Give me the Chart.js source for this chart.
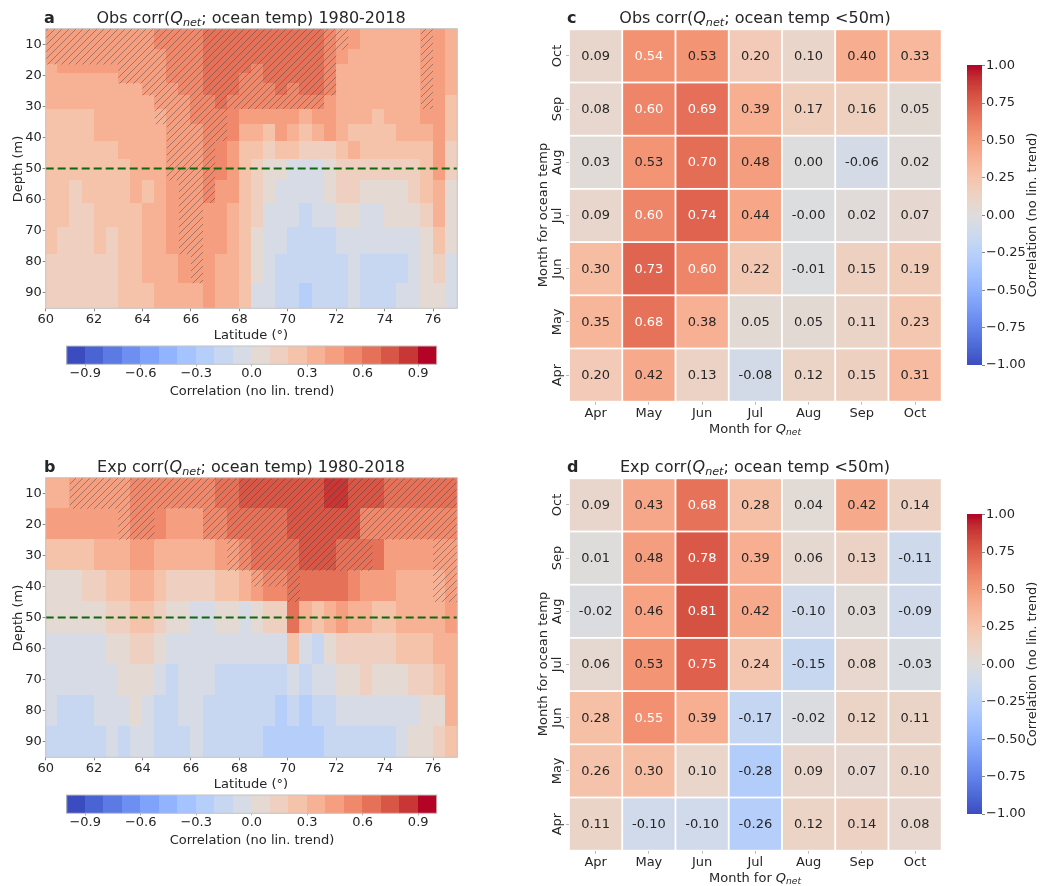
<!DOCTYPE html>
<html>
<head>
<meta charset="utf-8">
<script src="https://cdn.jsdelivr.net/npm/chart.js@4.4.0/dist/chart.umd.min.js"></script>
<style>
  body { margin: 0; background: #fff; }
  #page { position: relative; width: 1041px; height: 886px; overflow: hidden; font-family: "DejaVu Sans", sans-serif; color: #262626; }
  canvas { position: absolute; }
  .lbl { position: absolute; white-space: nowrap; transform: translate(-50%, -50%); font-size: 13px; line-height: 1; }
  .rot { transform: translate(-50%, -50%) rotate(-90deg); }
  .ttl { font-size: 16px; }
  .tag { position: absolute; white-space: nowrap; transform: translateY(-50%); font-size: 16px; font-weight: bold; line-height: 1; }
  sub { font-size: 70%; vertical-align: -0.3em; line-height: 0; }
</style>
</head>
<body>
<div id="page">
  <canvas id="secA" width="470" height="340" style="left:0;top:0"></canvas>
  <canvas id="barA" width="470" height="75" style="left:0;top:330px"></canvas>
  <canvas id="secB" width="470" height="340" style="left:0;top:449px"></canvas>
  <canvas id="barB" width="470" height="75" style="left:0;top:779px"></canvas>
  <canvas id="heatC" width="425" height="440" style="left:520px;top:0"></canvas>
  <canvas id="barC" width="101" height="350" style="left:940px;top:40px"></canvas>
  <canvas id="heatD" width="425" height="440" style="left:520px;top:449px"></canvas>
  <canvas id="barD" width="101" height="350" style="left:940px;top:489px"></canvas>

  <div class="tag" style="left:44px;top:18px">a</div>
  <div class="lbl ttl" style="left:251px;top:18px">Obs corr(<i>Q<sub>net</sub></i>; ocean temp) 1980-2018</div>
  <div class="lbl rot" style="left:17px;top:169px">Depth (m)</div>
  <div class="lbl" style="left:251px;top:334px">Latitude (°)</div>
  <div class="lbl" style="left:252px;top:390px">Correlation (no lin. trend)</div>

  <div class="tag" style="left:44px;top:467px">b</div>
  <div class="lbl ttl" style="left:251px;top:467px">Exp corr(<i>Q<sub>net</sub></i>; ocean temp) 1980-2018</div>
  <div class="lbl rot" style="left:17px;top:618px">Depth (m)</div>
  <div class="lbl" style="left:251px;top:783px">Latitude (°)</div>
  <div class="lbl" style="left:252px;top:839px">Correlation (no lin. trend)</div>

  <div class="tag" style="left:567px;top:18px">c</div>
  <div class="lbl ttl" style="left:755px;top:18px">Obs corr(<i>Q<sub>net</sub></i>; ocean temp &lt;50m)</div>
  <div class="lbl" style="left:755px;top:428px">Month for <i>Q<sub>net</sub></i></div>
  <div class="lbl rot" style="left:542px;top:215px">Month for ocean temp</div>
  <div class="lbl rot" style="left:1031px;top:215px">Correlation (no lin. trend)</div>

  <div class="tag" style="left:567px;top:467px">d</div>
  <div class="lbl ttl" style="left:755px;top:467px">Exp corr(<i>Q<sub>net</sub></i>; ocean temp &lt;50m)</div>
  <div class="lbl" style="left:755px;top:877px">Month for <i>Q<sub>net</sub></i></div>
  <div class="lbl rot" style="left:542px;top:664px">Month for ocean temp</div>
  <div class="lbl rot" style="left:1031px;top:664px">Correlation (no lin. trend)</div>
</div>

<script>
// ---- data ----
const latEdges = [60, 60.5, 61, 61.5, 62, 62.5, 63, 63.5, 64, 64.5, 65, 65.5, 66, 66.5, 67, 67.5, 68,
  68.5, 69, 69.5, 70, 70.5, 71, 71.5, 72, 72.5, 73, 73.5, 74, 74.5, 75, 75.5, 76, 76.5, 77];
const latTicks = [60, 62, 64, 66, 68, 70, 72, 74, 76];
const depthTicks = [10, 20, 30, 40, 50, 60, 70, 80, 90];
const mixedDepth = 50;

// obs: model levels, one profile per latitude band (top -> bottom)
const obsDepthEdges = [5, 11.77, 16.53, 19.43, 22.76, 26.56, 30.87, 35.74, 41.18, 47.21, 53.85, 61.11, 69.02, 77.61, 86.93, 95];
const obsCorr = [
  [.45, .45, .35, .35, .35, .35, .25, .25, .25, .25, .25, .25, .25, .15, .15],
  [.45, .45, .45, .35, .35, .35, .25, .25, .25, .25, .25, .25, .15, .15, .15],
  [.45, .45, .45, .35, .35, .35, .25, .25, .25, .25, .15, .15, .15, .15, .15],
  [.45, .45, .45, .35, .35, .35, .25, .25, .25, .25, .25, .15, .15, .15, .15],
  [.45, .45, .45, .35, .35, .35, .35, .35, .25, .25, .25, .25, .25, .15, .15],
  [.45, .45, .45, .35, .35, .35, .35, .35, .25, .25, .25, .25, .15, .15, .15],
  [.45, .45, .45, .45, .35, .35, .35, .35, .35, .25, .25, .25, .25, .25, .25],
  [.45, .45, .45, .45, .35, .35, .35, .35, .35, .35, .35, .25, .25, .25, .25],
  [.45, .45, .45, .45, .45, .35, .35, .35, .35, .35, .25, .35, .35, .35, .25],
  [.55, .45, .45, .45, .45, .45, .35, .35, .35, .35, .35, .35, .35, .35, .35],
  [.55, .55, .55, .55, .45, .45, .45, .45, .45, .45, .45, .45, .45, .35, .35],
  [.55, .55, .55, .55, .55, .45, .45, .45, .45, .45, .45, .45, .45, .45, .35],
  [.55, .55, .55, .55, .55, .55, .55, .45, .45, .45, .45, .45, .45, .45, .35],
  [.65, .65, .65, .65, .65, .55, .55, .55, .55, .55, .55, .45, .45, .45, .45],
  [.65, .65, .65, .65, .65, .65, .55, .55, .55, .55, .45, .45, .45, .35, .35],
  [.65, .65, .65, .65, .65, .55, .55, .55, .45, .45, .45, .35, .35, .35, .35],
  [.65, .65, .65, .55, .55, .55, .45, .35, .25, .25, .25, .25, .25, .25, .25],
  [.65, .65, .55, .55, .55, .55, .45, .35, .25, .15, .15, .15, .05, .05, -.05],
  [.65, .65, .65, .65, .55, .55, .45, .25, .15, .05, .05, -.05, -.05, -.05, -.05],
  [.65, .65, .65, .65, .65, .55, .45, .45, .25, .05, -.05, -.05, -.05, -.15, -.15],
  [.65, .65, .65, .65, .55, .55, .45, .35, .25, -.05, -.05, -.05, -.15, -.15, -.15],
  [.65, .65, .65, .65, .65, .55, .35, .25, .15, -.05, -.05, -.15, -.15, -.15, -.25],
  [.65, .65, .65, .65, .65, .55, .45, .35, .15, -.05, -.05, -.05, -.15, -.15, -.15],
  [.55, .55, .55, .55, .55, .45, .45, .45, .15, .05, .05, -.05, -.15, -.15, -.15],
  [.45, .45, .35, .35, .35, .35, .35, .35, .25, .15, .15, .05, -.05, -.15, -.15],
  [.45, .35, .35, .35, .35, .35, .35, .25, .35, .15, .15, .05, -.05, -.05, -.05],
  [.35, .35, .35, .35, .35, .35, .35, .25, .25, .15, .05, -.05, -.05, -.15, -.15],
  [.35, .35, .35, .35, .35, .35, .25, .25, .25, .15, .05, -.05, -.05, -.15, -.15],
  [.35, .35, .35, .35, .35, .35, .35, .25, .25, .15, .05, .05, -.05, -.15, -.15],
  [.35, .35, .35, .35, .35, .35, .35, .35, .25, .15, .05, .05, -.05, -.15, -.05],
  [.35, .35, .35, .35, .35, .35, .35, .35, .25, .15, .15, .05, -.05, -.05, -.05],
  [.45, .45, .45, .45, .45, .45, .45, .35, .25, .25, .25, .15, .05, .05, .05],
  [.45, .45, .45, .45, .45, .45, .45, .45, .45, .45, .35, .35, .25, .15, .05],
  [.35, .35, .35, .35, .35, .25, .25, .25, .15, .15, .05, .05, .05, -.05, -.05]
];
// depth (m) down to which the obs correlation is significant (hatched), per latitude band
const obsSigDepth = [16.53, 16.53, 16.53, 16.53, 16.53, 16.53, 22.76, 22.76, 26.56, 35.74, 53.85, 77.61, 86.93,
  61.11, 41.18, 30.87, 30.87, 30.87, 30.87, 30.87, 30.87, 30.87, 30.87, 26.56, 11.77, 0, 0, 0, 0, 0, 0, 30.87, 0, 0];

// exp: 10 m levels, one row per depth level (west -> east)
const expDepthEdges = [5, 15, 25, 35, 45, 55, 65, 75, 85, 95];
const expCorr = [
  [.35, .35, .45, .45, .45, .45, .45, .55, .55, .55, .55, .55, .55, .55, .65, .65, .75, .75, .75, .75, .75, .75, .75, .85, .85, .75, .75, .75, .65, .65, .65, .65, .65, .65],
  [.45, .45, .45, .45, .45, .45, .45, .55, .55, .55, .45, .45, .45, .55, .55, .65, .65, .65, .65, .65, .75, .75, .75, .75, .75, .75, .55, .55, .55, .55, .55, .55, .55, .55],
  [.25, .25, .25, .25, .35, .35, .35, .45, .45, .35, .35, .35, .35, .35, .45, .45, .55, .65, .65, .65, .65, .75, .75, .75, .65, .65, .65, .65, .45, .45, .45, .45, .45, .45],
  [.05, .05, .05, .15, .15, .25, .25, .35, .35, .25, .15, .15, .15, .15, .25, .25, .35, .45, .55, .55, .65, .65, .65, .65, .65, .55, .45, .45, .45, .35, .35, .35, .35, .45],
  [.05, .05, .05, .05, .05, .15, .15, .25, .25, .15, .05, .05, -.05, -.05, .05, .05, -.05, .05, .15, .15, .65, .35, .25, .35, .45, .35, .35, .25, .25, .35, .35, .35, .35, .45],
  [-.05, -.05, -.05, -.05, -.05, .05, .05, .15, .15, .05, -.05, -.05, -.05, -.05, -.05, -.05, -.05, -.05, -.05, -.05, .25, -.05, -.15, .05, .15, .15, .15, .15, .15, .25, .25, .25, .35, .35],
  [-.05, -.05, -.05, -.05, -.05, -.05, .05, .05, .05, -.05, -.15, -.05, -.05, -.05, -.15, -.15, -.15, -.15, -.15, -.15, -.05, -.15, -.05, -.05, .05, .05, .15, .05, .05, .05, .15, .15, .25, .35],
  [-.05, -.15, -.15, -.15, -.05, -.05, -.05, .05, -.05, -.15, -.15, -.05, -.05, -.15, -.15, -.15, -.15, -.15, -.15, -.25, -.15, -.25, -.15, -.15, -.05, -.05, -.05, -.05, -.05, -.05, -.05, .05, .05, .35],
  [-.15, -.15, -.15, -.15, -.15, -.05, -.15, -.05, -.05, -.15, -.15, -.15, -.05, -.15, -.15, -.15, -.15, -.15, -.25, -.25, -.25, -.25, -.25, -.15, -.15, -.15, -.15, -.15, -.15, -.05, .05, .05, .15, .25]
];
const expSigDepth = [0, 0, 15, 15, 15, 15, 25, 25, 25, 15, 15, 15, 15, 25, 25, 35, 35, 40, 40, 40, 45,
  35, 35, 35, 35, 35, 35, 25, 25, 25, 25, 25, 45, 45];

const cbarLevels = [-1, -0.9, -0.8, -0.7, -0.6, -0.5, -0.4, -0.3, -0.2, -0.1, 0, 0.1, 0.2, 0.3, 0.4, 0.5, 0.6, 0.7, 0.8, 0.9, 1];
const cbarTicksH = [-0.9, -0.6, -0.3, 0, 0.3, 0.6, 0.9];
const cbarTicksV = [-1, -0.75, -0.5, -0.25, 0, 0.25, 0.5, 0.75, 1];

const months = ["Apr", "May", "Jun", "Jul", "Aug", "Sep", "Oct"];
// rows: month for ocean temp (Apr..Oct), columns: month for Qnet (Apr..Oct)
const obsMonthCorr = [
  [0.20, 0.42, 0.13, -0.08, 0.12, 0.15, 0.31],
  [0.35, 0.68, 0.38, 0.05, 0.05, 0.11, 0.23],
  [0.30, 0.73, 0.60, 0.22, -0.01, 0.15, 0.19],
  [0.09, 0.60, 0.74, 0.44, -0.004, 0.02, 0.07],
  [0.03, 0.53, 0.70, 0.48, 0.00, -0.06, 0.02],
  [0.08, 0.60, 0.69, 0.39, 0.17, 0.16, 0.05],
  [0.09, 0.54, 0.53, 0.20, 0.10, 0.40, 0.33]
];
const expMonthCorr = [
  [0.11, -0.10, -0.10, -0.26, 0.12, 0.14, 0.08],
  [0.26, 0.30, 0.10, -0.28, 0.09, 0.07, 0.10],
  [0.28, 0.55, 0.39, -0.17, -0.02, 0.12, 0.11],
  [0.06, 0.53, 0.75, 0.24, -0.15, 0.08, -0.03],
  [-0.02, 0.46, 0.81, 0.42, -0.10, 0.03, -0.09],
  [0.01, 0.48, 0.78, 0.39, 0.06, 0.13, -0.11],
  [0.09, 0.43, 0.68, 0.28, 0.04, 0.42, 0.14]
];

// ---- colours ----
const coolwarmStops = [
  [59, 76, 192], [68, 90, 204], [77, 104, 215], [87, 117, 225], [98, 130, 234], [108, 142, 241],
  [119, 154, 247], [130, 165, 251], [141, 176, 254], [152, 185, 255], [163, 194, 255], [174, 201, 253],
  [184, 208, 249], [194, 213, 244], [204, 217, 238], [213, 219, 230], [221, 221, 221], [229, 216, 209],
  [236, 211, 197], [241, 204, 185], [245, 196, 173], [247, 187, 160], [247, 177, 148], [247, 166, 135],
  [244, 154, 123], [241, 141, 111], [236, 127, 99], [229, 112, 88], [222, 96, 77], [213, 80, 66],
  [203, 62, 56], [192, 40, 47], [180, 4, 38]
];

function coolwarm(t) {
  t = Math.max(0, Math.min(1, t));
  const f = t * 32;
  const i = Math.min(31, Math.floor(f));
  const u = f - i;
  const a = coolwarmStops[i], b = coolwarmStops[i + 1];
  return [0, 1, 2].map((k) => Math.round(a[k] + (b[k] - a[k]) * u));
}
function rgb(c) {
  return `rgb(${c[0]},${c[1]},${c[2]})`;
}
// 20 discrete levels of 0.1, as in the section plots
function binColor(v) {
  let i = Math.floor((v + 1) / 0.1 + 1e-9);
  i = Math.max(0, Math.min(19, i));
  return rgb(coolwarm(i / 19));
}
function textColorFor(c) {
  const lin = c.map((x) => {
    x /= 255;
    return x <= 0.03928 ? x / 12.92 : Math.pow((x + 0.055) / 1.055, 2.4);
  });
  const L = 0.2126 * lin[0] + 0.7152 * lin[1] + 0.0722 * lin[2];
  return L > 0.408 ? "#262626" : "#ffffff";
}
function minus(s) {
  return s.replace("-", "\u2212");
}

const FONT = { family: "DejaVu Sans", size: 13 };
const INK = "#262626";

function hatchPattern(ctx) {
  const s = 7;
  const c = document.createElement("canvas");
  c.width = s;
  c.height = s;
  const g = c.getContext("2d");
  g.strokeStyle = "rgba(60,60,60,0.55)";
  g.lineWidth = 0.8;
  g.beginPath();
  g.moveTo(0, s); g.lineTo(s, 0);
  g.moveTo(-1, 1); g.lineTo(1, -1);
  g.moveTo(s - 1, s + 1); g.lineTo(s + 1, s - 1);
  g.stroke();
  return ctx.createPattern(c, "repeat");
}

function fixedTicks(list) {
  return (scale) => { scale.ticks = list.map((v) => ({ value: v })); };
}

// ---- latitude / depth sections ----
const sectionPlugin = {
  id: "section",
  beforeDatasetsDraw(chart) {
    const { ctx, chartArea: a, scales: { x, y } } = chart;
    const cells = chart.data.datasets[0].data;
    ctx.save();
    ctx.beginPath();
    ctx.rect(a.left, a.top, a.width, a.height);
    ctx.clip();
    cells.forEach((d) => {
      const x0 = Math.floor(x.getPixelForValue(d.x0));
      const x1 = Math.ceil(x.getPixelForValue(d.x1));
      const y0 = Math.floor(y.getPixelForValue(d.y0));
      const y1 = Math.ceil(y.getPixelForValue(d.y1));
      ctx.fillStyle = binColor(d.v);
      ctx.fillRect(x0, y0, x1 - x0, y1 - y0);
    });
    // significance hatching
    const sig = chart.options.plugins.section.sig;
    ctx.beginPath();
    sig.forEach((dep, i) => {
      if (!dep) return;
      const x0 = x.getPixelForValue(latEdges[i]);
      const x1 = x.getPixelForValue(latEdges[i + 1]);
      const y0 = y.getPixelForValue(5);
      const y1 = y.getPixelForValue(dep);
      ctx.rect(x0, y0, x1 - x0, y1 - y0);
    });
    ctx.fillStyle = hatchPattern(ctx);
    ctx.fill();
    // 50 m line
    const ym = y.getPixelForValue(mixedDepth);
    ctx.strokeStyle = "#0b6a0b";
    ctx.lineWidth = 2;
    ctx.setLineDash([8, 4]);
    ctx.beginPath();
    ctx.moveTo(a.left, ym);
    ctx.lineTo(a.right, ym);
    ctx.stroke();
    ctx.restore();
    ctx.save();
    ctx.strokeStyle = "#c4c4c4";
    ctx.lineWidth = 1;
    ctx.strokeRect(a.left, a.top, a.width, a.height);
    ctx.restore();
  },
};

function sectionChart(id, cells, sig) {
  return new Chart(document.getElementById(id), {
    type: "scatter",
    data: { datasets: [{ data: cells, pointRadius: 0 }] },
    options: {
      responsive: false,
      animation: false,
      devicePixelRatio: 1,
      layout: { padding: { left: 0, top: 28.7, right: 12.7, bottom: 0 } },
      plugins: { legend: { display: false }, tooltip: { enabled: false }, section: { sig: sig } },
      scales: {
        x: {
          type: "linear", min: 60, max: 77,
          afterBuildTicks: fixedTicks(latTicks),
          afterFit: (s) => { s.height = 31.7; },
          ticks: { font: FONT, color: INK, padding: 1, autoSkip: false, maxRotation: 0, callback: (v) => String(v) },
          grid: { display: true, drawOnChartArea: false, tickLength: 3, color: "#888" },
          border: { display: false },
        },
        y: {
          type: "linear", min: 5, max: 95, reverse: true,
          afterBuildTicks: fixedTicks(depthTicks),
          afterFit: (s) => { s.width = 45.7; },
          ticks: { font: FONT, color: INK, padding: 1, autoSkip: false, callback: (v) => String(v) },
          grid: { display: true, drawOnChartArea: false, tickLength: 3, color: "#888" },
          border: { display: false },
        },
      },
    },
    plugins: [sectionPlugin],
  });
}

// cells for the obs section (stored per latitude band)
const obsCells = [];
obsCorr.forEach((col, i) => {
  col.forEach((v, r) => {
    obsCells.push({ x: (latEdges[i] + latEdges[i + 1]) / 2, y: (obsDepthEdges[r] + obsDepthEdges[r + 1]) / 2,
      x0: latEdges[i], x1: latEdges[i + 1], y0: obsDepthEdges[r], y1: obsDepthEdges[r + 1], v: v });
  });
});
// cells for the exp section (stored per depth level)
const expCells = [];
expCorr.forEach((row, r) => {
  row.forEach((v, i) => {
    expCells.push({ x: (latEdges[i] + latEdges[i + 1]) / 2, y: (expDepthEdges[r] + expDepthEdges[r + 1]) / 2,
      x0: latEdges[i], x1: latEdges[i + 1], y0: expDepthEdges[r], y1: expDepthEdges[r + 1], v: v });
  });
});

sectionChart("secA", obsCells, obsSigDepth);
sectionChart("secB", expCells, expSigDepth);

// ---- horizontal discrete colour bars ----
const hbarPlugin = {
  id: "hbar",
  beforeDatasetsDraw(chart) {
    const { ctx, chartArea: a, scales: { x } } = chart;
    ctx.save();
    for (let i = 0; i < cbarLevels.length - 1; i++) {
      const x0 = Math.floor(x.getPixelForValue(cbarLevels[i]));
      const x1 = Math.ceil(x.getPixelForValue(cbarLevels[i + 1]));
      ctx.fillStyle = binColor((cbarLevels[i] + cbarLevels[i + 1]) / 2);
      ctx.fillRect(x0, a.top, x1 - x0, a.height);
    }
    ctx.strokeStyle = "#c4c4c4";
    ctx.lineWidth = 1;
    ctx.strokeRect(a.left, a.top, a.width, a.height);
    ctx.restore();
  },
};

function hbarChart(id) {
  return new Chart(document.getElementById(id), {
    type: "scatter",
    data: { datasets: [{ data: [], pointRadius: 0 }] },
    options: {
      responsive: false,
      animation: false,
      devicePixelRatio: 1,
      layout: { padding: { left: 66.7, right: 33.3, top: 16, bottom: 0 } },
      plugins: { legend: { display: false }, tooltip: { enabled: false } },
      scales: {
        x: {
          type: "linear", min: -1, max: 1,
          afterBuildTicks: fixedTicks(cbarTicksH),
          afterFit: (s) => { s.height = 40.7; },
          ticks: { font: FONT, color: INK, padding: 0, autoSkip: false, maxRotation: 0, callback: (v) => minus(v.toFixed(1)) },
          grid: { display: true, drawOnChartArea: false, tickLength: 2, color: "#aaa" },
          border: { display: false },
        },
        y: { display: false, min: 0, max: 1 },
      },
    },
    plugins: [hbarPlugin],
  });
}
hbarChart("barA");
hbarChart("barB");

// ---- month x month heatmaps ----
const heatPlugin = {
  id: "heat",
  beforeDatasetsDraw(chart) {
    const { ctx, chartArea: a, scales: { x, y } } = chart;
    ctx.save();
    ctx.textAlign = "center";
    ctx.textBaseline = "middle";
    chart.data.datasets[0].data.forEach((d) => {
      const x0 = x.getPixelForValue(d.x - 0.5) + 0.9;
      const x1 = x.getPixelForValue(d.x + 0.5) - 0.9;
      const y0 = y.getPixelForValue(d.y + 0.5) + 0.9;
      const y1 = y.getPixelForValue(d.y - 0.5) - 0.9;
      const c = coolwarm((d.v + 1) / 2);
      ctx.fillStyle = rgb(c);
      ctx.fillRect(x0, y0, x1 - x0, y1 - y0);
      ctx.fillStyle = textColorFor(c);
      ctx.font = '13px "DejaVu Sans"';
      ctx.fillText(d.v.toFixed(2), (x0 + x1) / 2, (y0 + y1) / 2 + 0.5);
    });
    // rotated row labels
    ctx.fillStyle = INK;
    months.forEach((m, i) => {
      ctx.save();
      ctx.translate(a.left - 11, y.getPixelForValue(i));
      ctx.rotate(-Math.PI / 2);
      ctx.fillText(m, 0, 0);
      ctx.restore();
    });
    ctx.restore();
  },
};

function heatChart(id, table) {
  const cells = [];
  table.forEach((row, r) => row.forEach((v, c) => cells.push({ x: c, y: r, v: v })));
  return new Chart(document.getElementById(id), {
    type: "scatter",
    data: { datasets: [{ data: cells, pointRadius: 0 }] },
    options: {
      responsive: false,
      animation: false,
      devicePixelRatio: 1,
      layout: { padding: { left: 0, top: 29.3, right: 3.3, bottom: 0 } },
      plugins: { legend: { display: false }, tooltip: { enabled: false } },
      scales: {
        x: {
          type: "linear", min: -0.5, max: 6.5,
          afterBuildTicks: fixedTicks([0, 1, 2, 3, 4, 5, 6]),
          afterFit: (s) => { s.height = 38.3; },
          ticks: { font: FONT, color: INK, padding: 1, autoSkip: false, maxRotation: 0, callback: (v) => months[v] },
          grid: { display: true, drawOnChartArea: false, tickLength: 3, color: "#bbb" },
          border: { display: false },
        },
        y: {
          type: "linear", min: -0.5, max: 6.5,
          afterBuildTicks: fixedTicks([0, 1, 2, 3, 4, 5, 6]),
          afterFit: (s) => { s.width = 49; },
          ticks: { display: false },
          grid: { display: true, drawOnChartArea: false, tickLength: 3, color: "#bbb" },
          border: { display: false },
        },
      },
    },
    plugins: [heatPlugin],
  });
}
heatChart("heatC", obsMonthCorr);
heatChart("heatD", expMonthCorr);

// ---- vertical continuous colour bars ----
const vbarPlugin = {
  id: "vbar",
  beforeDatasetsDraw(chart) {
    const { ctx, chartArea: a, scales: { y } } = chart;
    ctx.save();
    const n = 240;
    for (let i = 0; i < n; i++) {
      const v0 = -1 + (2 * i) / n, v1 = -1 + (2 * (i + 1)) / n;
      const y0 = y.getPixelForValue(v1), y1 = y.getPixelForValue(v0);
      ctx.fillStyle = rgb(coolwarm((v0 + v1) / 4 + 0.5));
      ctx.fillRect(a.left, Math.floor(y0), a.width, Math.ceil(y1) - Math.floor(y0));
    }
    ctx.restore();
  },
};

function vbarChart(id) {
  return new Chart(document.getElementById(id), {
    type: "scatter",
    data: { datasets: [{ data: [], pointRadius: 0 }] },
    options: {
      responsive: false,
      animation: false,
      devicePixelRatio: 1,
      layout: { padding: { left: 27, right: 0, top: 25.7, bottom: 25 } },
      plugins: { legend: { display: false }, tooltip: { enabled: false } },
      scales: {
        x: { display: false, min: 0, max: 1 },
        y: {
          type: "linear", position: "right", min: -1, max: 1,
          afterBuildTicks: fixedTicks(cbarTicksV),
          afterFit: (s) => { s.width = 59; },
          ticks: { font: FONT, color: INK, padding: 1, autoSkip: false, callback: (v) => minus(v.toFixed(2)) },
          grid: { display: true, drawOnChartArea: false, tickLength: 3, color: "#888" },
          border: { display: false },
        },
      },
    },
    plugins: [vbarPlugin],
  });
}
vbarChart("barC");
vbarChart("barD");
</script>
</body>
</html>
